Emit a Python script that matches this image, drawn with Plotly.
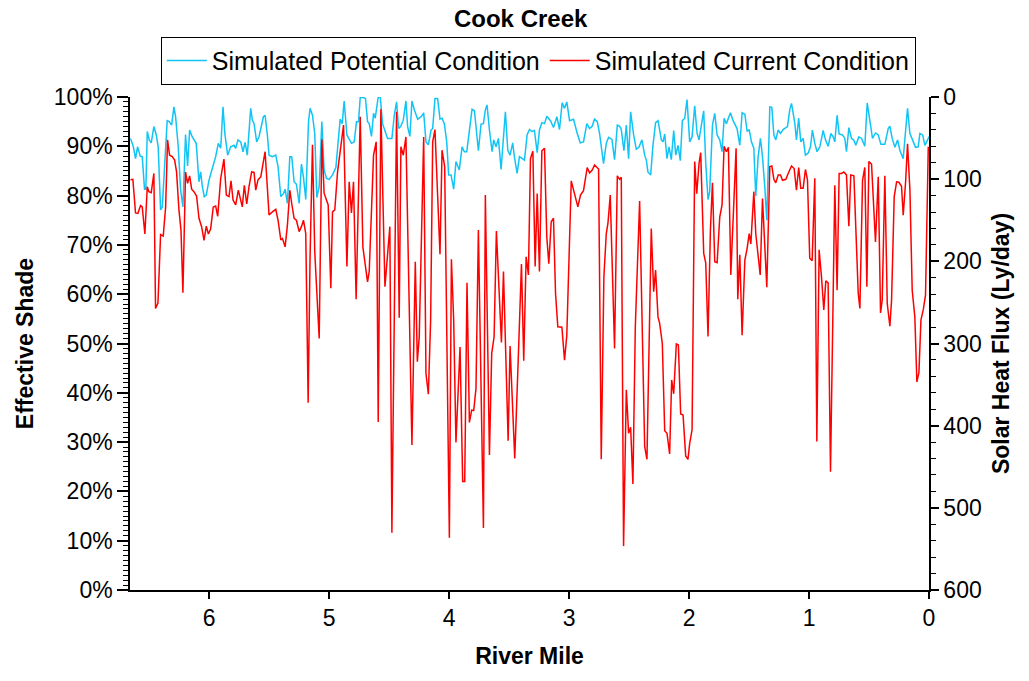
import plotly.graph_objects as go

# ---- data ----
potential_mile = [
    6.656, 6.633, 6.614, 6.597, 6.575, 6.558, 6.539, 6.528, 6.516, 6.500, 6.483, 6.461, 6.441, 6.425,
    6.405, 6.391, 6.375, 6.350, 6.333, 6.313, 6.294, 6.280, 6.258, 6.238, 6.219, 6.197, 6.180, 6.163,
    6.141, 6.108, 6.085, 6.071, 6.057, 6.041, 6.024, 6.002, 5.974, 5.946, 5.924, 5.904, 5.885, 5.868,
    5.846, 5.821, 5.793, 5.779, 5.760, 5.737, 5.718, 5.701, 5.682, 5.654, 5.640,
    5.626, 5.604, 5.584, 5.548, 5.534, 5.515, 5.501, 5.473, 5.445, 5.426, 5.403, 5.381, 5.367, 5.348,
    5.328, 5.312, 5.292, 5.273, 5.250, 5.231, 5.214, 5.195, 5.172, 5.159, 5.139, 5.120, 5.103, 5.083,
    5.061, 5.042, 5.022, 5.000, 4.972, 4.944, 4.908, 4.891, 4.875, 4.852, 4.814, 4.791, 4.772, 4.755,
    4.741, 4.716, 4.697, 4.680, 4.666, 4.647, 4.630, 4.616, 4.591, 4.574, 4.555, 4.513,
    4.499, 4.477, 4.457, 4.438, 4.421, 4.402, 4.382, 4.360, 4.346, 4.327, 4.310, 4.290, 4.262, 4.229,
    4.212, 4.193, 4.173, 4.151, 4.137, 4.118, 4.096, 4.076, 4.059, 4.040, 4.020, 4.004, 3.984, 3.962,
    3.943, 3.915, 3.892, 3.873, 3.853, 3.831, 3.809, 3.789, 3.776, 3.756, 3.734, 3.714, 3.698, 3.684,
    3.664, 3.642, 3.628, 3.609, 3.589, 3.567, 3.531, 3.511, 3.492, 3.470, 3.456, 3.433, 3.414, 3.392,
    3.372, 3.350, 3.330, 3.311, 3.289, 3.266, 3.247, 3.227, 3.205, 3.186, 3.155, 3.130, 3.102, 3.080,
    3.058, 3.038, 3.019, 2.996, 2.963, 2.932, 2.907, 2.880, 2.852, 2.829, 2.807, 2.788, 2.765, 2.746,
    2.727, 2.713, 2.690, 2.671, 2.643, 2.621, 2.598, 2.579, 2.565, 2.543, 2.523, 2.504, 2.487, 2.462,
    2.440, 2.418, 2.393, 2.370, 2.356, 2.343, 2.320, 2.301, 2.279, 2.259,
    2.245, 2.231, 2.217, 2.203, 2.184, 2.167, 2.148, 2.128, 2.111, 2.092, 2.073, 2.056, 2.036, 2.017,
    1.995, 1.975, 1.953, 1.933, 1.917, 1.897, 1.878, 1.861, 1.842, 1.828, 1.805, 1.786, 1.766, 1.744,
    1.725, 1.708, 1.689, 1.655, 1.633, 1.600, 1.577, 1.558, 1.535, 1.516, 1.499, 1.480, 1.460, 1.444,
    1.424, 1.405, 1.388, 1.369, 1.352, 1.327, 1.310, 1.293, 1.277, 1.257, 1.238, 1.216, 1.180, 1.160,
    1.146, 1.118,
    1.105, 1.086, 1.069, 1.049, 1.030, 1.008, 0.988, 0.972, 0.952, 0.933, 0.910, 0.882, 0.863, 0.841,
    0.818, 0.799, 0.785, 0.766, 0.749, 0.721, 0.702, 0.688, 0.668, 0.646, 0.627, 0.610, 0.585, 0.562,
    0.535, 0.515, 0.493, 0.471, 0.446, 0.423, 0.401, 0.368, 0.340, 0.326, 0.307, 0.284, 0.262, 0.243,
    0.215, 0.195, 0.179, 0.159, 0.140, 0.112, 0.090, 0.076, 0.053, 0.034, 0.006, 0.000,
]
potential_shade = [
    91.6, 90.0, 87.5, 89.9, 88.0, 87.9, 81.3, 81.3, 93.0, 91.3, 90.7, 94.0, 92.3, 89.9,
    77.1, 77.7, 84.5, 95.2, 95.0, 94.3, 98.0, 96.0, 89.9, 81.1, 77.7, 92.4, 86.0, 93.3,
    91.9, 90.6, 82.8, 84.8, 81.8, 79.8, 80.1, 83.1, 85.5, 87.9, 90.6, 89.6, 98.0, 92.3,
    88.2, 89.9, 90.2, 89.6, 91.3, 90.9, 88.9, 90.8, 88.2, 97.7, 95.3,
    94.6, 90.9, 92.0, 96.0, 96.3, 92.3, 88.2, 87.9, 88.2, 85.9, 79.8, 80.4, 81.3, 78.4,
    87.9, 87.9, 82.8, 82.3, 78.4, 86.4, 83.7, 79.2, 95.0, 97.7, 96.3, 92.6, 79.6, 81.8,
    95.0, 85.2, 83.5, 83.3, 84.2, 85.7, 95.5, 94.6, 99.2, 92.3, 90.6, 90.9, 95.0, 95.0,
    99.9, 99.9, 99.7, 95.0, 94.6, 92.0, 96.7, 95.7, 100.0, 100.0, 94.6, 91.6,
    91.6, 91.6, 96.3, 99.0, 93.6, 94.1, 95.3, 99.2, 94.0, 92.0, 99.2, 97.4, 95.5, 96.1,
    96.8, 90.9, 90.3, 93.3, 93.6, 99.7, 99.7, 95.5, 95.7, 94.6, 90.9, 84.2, 84.2, 81.3,
    86.9, 85.2, 89.9, 88.9, 88.9, 93.3, 97.5, 97.2, 94.0, 89.1, 94.5, 94.6, 97.4, 98.4,
    93.3, 88.9, 91.3, 89.9, 91.6, 85.3, 97.0, 89.2, 88.2, 90.7, 87.9, 84.5, 87.9, 87.6,
    87.2, 92.3, 93.4, 93.0, 93.2, 88.7, 93.3, 94.8, 94.6, 96.1, 95.2, 93.8, 96.0, 93.4,
    98.8, 97.7, 99.0, 95.2, 95.5, 92.6, 90.7, 90.9, 94.6, 93.6, 94.1, 95.5, 95.0, 92.6,
    88.6, 86.5, 90.6, 91.8, 91.4, 87.3, 94.3, 94.1, 93.4, 89.1, 94.3, 87.5, 97.0, 92.3,
    89.4, 89.8, 91.3, 88.2, 87.2, 84.8, 84.2, 90.2, 94.8, 95.2,
    93.3, 91.3, 90.9, 92.5, 87.5, 89.9, 87.3, 93.2, 88.2, 90.2, 87.1, 95.2, 95.7, 99.5,
    90.9, 91.9, 98.2, 92.6, 91.3, 94.3, 97.2, 86.5, 79.2, 80.8, 94.3, 96.7, 92.3, 91.3,
    88.9, 95.7, 94.6, 96.8, 95.2, 93.6, 90.2, 96.8, 96.5, 93.0, 93.4, 90.9, 89.6, 79.9,
    87.9, 91.6, 87.9, 81.8, 75.0, 98.0, 97.9, 92.3, 91.3, 93.3, 92.6, 93.4, 94.0, 97.5,
    98.7, 94.6,
    91.3, 95.7, 90.9, 91.6, 88.2, 88.6, 89.9, 93.3, 90.6, 88.9, 89.9, 93.2, 91.3, 90.0,
    92.6, 91.9, 90.9, 96.3, 92.5, 92.3, 91.6, 88.9, 93.8, 91.6, 91.3, 90.2, 91.9, 91.6,
    90.0, 98.8, 95.3, 91.6, 92.7, 92.3, 90.4, 90.4, 93.6, 94.1, 91.6, 89.8, 91.3, 89.2,
    87.5, 93.6, 97.7, 92.6, 91.6, 89.8, 89.9, 92.6, 92.3, 90.2, 91.6, 92.0,
]

current_mile = [
    6.656, 6.636, 6.614, 6.594, 6.572, 6.558, 6.536, 6.516, 6.503, 6.483, 6.461, 6.447, 6.427, 6.405,
    6.383, 6.363, 6.347, 6.330, 6.308, 6.288, 6.272, 6.252, 6.235, 6.219, 6.197, 6.180, 6.163, 6.146,
    6.127, 6.105, 6.085, 6.063, 6.043, 6.024, 6.007, 5.988, 5.966, 5.946, 5.929, 5.904, 5.877, 5.857,
    5.835, 5.818, 5.801, 5.779, 5.757, 5.740, 5.724, 5.707, 5.687, 5.668, 5.646, 5.626,
    5.612, 5.593, 5.570, 5.534, 5.501, 5.473, 5.445, 5.426, 5.403, 5.389, 5.367, 5.348, 5.328, 5.312,
    5.292, 5.273, 5.250, 5.231, 5.214, 5.195, 5.175, 5.159, 5.139, 5.120, 5.083, 5.061, 5.042, 5.008,
    4.986, 4.972, 4.953, 4.930, 4.908, 4.880, 4.852, 4.833, 4.814, 4.797, 4.775, 4.758, 4.741, 4.719,
    4.680, 4.666, 4.630, 4.608, 4.591, 4.569, 4.535, 4.494,
    4.477, 4.438, 4.416, 4.402, 4.382, 4.360, 4.310, 4.282, 4.265, 4.249, 4.212, 4.193, 4.173, 4.154,
    4.137, 4.118, 4.076, 4.059, 4.037, 3.998, 3.981, 3.962, 3.943, 3.909, 3.887, 3.870, 3.851, 3.831,
    3.812, 3.795, 3.776, 3.756, 3.714, 3.698, 3.664, 3.645, 3.625, 3.606, 3.564, 3.547, 3.508, 3.492,
    3.453, 3.425, 3.397, 3.378,
    3.358, 3.339, 3.322, 3.302, 3.283, 3.266, 3.247, 3.227, 3.205, 3.186, 3.169, 3.149, 3.130, 3.113,
    3.094, 3.060, 3.038, 3.019, 2.982, 2.955, 2.927, 2.905, 2.880, 2.849, 2.829, 2.807, 2.788, 2.754,
    2.732, 2.710, 2.690, 2.676, 2.657, 2.621, 2.598, 2.579, 2.565, 2.546, 2.523, 2.504, 2.487, 2.468,
    2.448, 2.412, 2.370, 2.351, 2.315, 2.295, 2.279, 2.259,
    2.245, 2.223, 2.203, 2.184, 2.162, 2.145, 2.128, 2.106, 2.089, 2.070, 2.050, 2.028, 2.009, 1.995,
    1.975, 1.953, 1.936, 1.917, 1.903, 1.878, 1.861, 1.842, 1.822, 1.805, 1.786, 1.766, 1.744, 1.725,
    1.708, 1.689, 1.672, 1.652, 1.608, 1.594, 1.577, 1.558, 1.535, 1.516, 1.499, 1.485, 1.460, 1.444,
    1.407, 1.388, 1.352, 1.327, 1.310, 1.293, 1.277, 1.257, 1.238, 1.221, 1.193, 1.174, 1.146, 1.124,
    1.105, 1.086, 1.069, 1.049, 1.030, 1.013, 0.994, 0.974, 0.952, 0.935, 0.916, 0.896, 0.877, 0.860,
    0.841, 0.821, 0.785, 0.766, 0.749, 0.729, 0.710, 0.688, 0.668, 0.652, 0.626, 0.590, 0.576, 0.554,
    0.535, 0.518, 0.501, 0.479, 0.446, 0.423, 0.404, 0.390, 0.368, 0.348, 0.326, 0.312, 0.290, 0.270,
    0.251, 0.229, 0.215, 0.195, 0.179, 0.159, 0.140, 0.118, 0.101, 0.084, 0.067, 0.048, 0.029, 0.006,
]
current_shade = [
    83.2, 83.3, 76.5, 76.4, 78.0, 77.7, 72.2, 81.8, 80.8, 80.6, 84.5, 57.1, 58.2, 72.1,
    71.8, 77.7, 91.3, 88.2, 87.9, 87.2, 84.8, 77.1, 73.0, 60.3, 84.8, 82.5, 84.0, 81.3,
    80.8, 79.9, 75.4, 73.7, 70.9, 73.8, 72.2, 73.2, 77.7, 77.9, 75.8, 83.5, 87.4, 80.1,
    79.8, 83.0, 79.1, 78.1, 81.1, 79.4, 77.7, 82.1, 78.3, 81.8, 84.8, 84.7,
    81.1, 83.2, 83.8, 88.9, 76.1, 76.7, 77.2, 75.0, 71.0, 71.3, 69.6, 74.0, 81.1, 78.4,
    75.4, 75.0, 72.7, 73.7, 75.0, 72.3, 38.0, 67.6, 90.3, 68.6, 51.0, 91.4, 80.5, 78.1,
    61.2, 76.7, 77.1, 84.8, 89.2, 94.3, 65.6, 82.8, 76.5, 82.8, 59.0, 75.7, 96.0, 69.6,
    62.5, 64.6, 88.2, 90.9, 34.1, 97.5, 61.5, 73.7,
    11.6, 97.0, 55.2, 89.9, 88.2, 91.9, 29.4, 66.6, 46.3, 51.4, 91.9, 43.9, 39.7, 54.8,
    90.9, 93.4, 68.1, 89.2, 85.9, 10.6, 67.1, 54.8, 29.9, 49.3, 22.0, 22.0, 62.3, 34.0,
    36.5, 36.4, 40.9, 73.0, 12.6, 80.1, 27.4, 48.0, 51.4, 72.8, 50.2, 64.6, 30.3, 49.5,
    26.7, 46.0, 66.1, 46.5,
    67.6, 63.9, 87.5, 89.0, 65.6, 80.4, 64.6, 89.1, 89.6, 71.6, 66.2, 74.7, 75.4, 60.2,
    53.4, 53.3, 46.6, 51.7, 83.0, 80.4, 77.7, 80.1, 81.0, 85.7, 84.6, 85.2, 86.2, 85.4,
    26.5, 63.5, 72.3, 74.4, 80.1, 49.0, 84.0, 83.3, 83.7, 8.9, 40.6, 31.8, 33.0, 21.5,
    53.4, 78.9, 29.1, 26.5, 73.3, 60.5, 64.9, 55.4,
    54.1, 50.0, 32.3, 31.8, 27.6, 42.6, 39.8, 49.9, 49.7, 35.7, 35.5, 27.2, 26.5, 29.7,
    32.5, 86.9, 80.4, 86.5, 88.7, 68.3, 66.3, 51.4, 73.0, 82.6, 66.6, 66.4, 75.7, 78.1,
    90.0, 88.9, 89.8, 63.9, 89.6, 59.0, 68.0, 51.7, 66.9, 69.3, 72.3, 70.2, 80.8, 72.3,
    63.9, 79.4, 61.4, 85.9, 86.0, 83.3, 82.6, 84.2, 84.2, 83.1, 83.3, 84.5, 86.0, 85.5,
    81.1, 85.7, 81.5, 81.5, 85.3, 83.2, 67.3, 66.8, 83.5, 30.1, 69.0, 63.5, 56.8, 62.7,
    62.3, 24.0, 82.1, 60.8, 84.5, 84.5, 84.8, 84.2, 73.8, 84.2, 84.0, 60.2, 57.1, 83.1,
    85.7, 61.5, 86.9, 86.4, 70.6, 83.8, 56.2, 58.8, 84.0, 58.1, 53.5, 58.8, 79.8, 82.8,
    82.7, 81.9, 76.0, 82.8, 90.5, 81.1, 60.8, 55.4, 42.2, 44.1, 54.8, 56.8, 59.8, 89.9,
]

mile_ticks = [6, 5, 4, 3, 2, 1, 0]
shade_ticks = [0, 10, 20, 30, 40, 50, 60, 70, 80, 90, 100]
shade_labels = ["0%", "10%", "20%", "30%", "40%", "50%", "60%", "70%", "80%", "90%", "100%"]
flux_ticks = [0, 100, 200, 300, 400, 500, 600]

FONT = "Arial, Liberation Sans, sans-serif"
FS = 24

fig = go.Figure()
fig.add_trace(go.Scatter(
    x=potential_mile, y=potential_shade, mode="lines",
    name="Simulated Potential Condition",
    line=dict(color="#11C4F5", width=1.5),
))
fig.add_trace(go.Scatter(
    x=current_mile, y=current_shade, mode="lines",
    name="Simulated Current Condition",
    line=dict(color="#FF0000", width=1.5),
))
# anchor trace for the secondary (flux) axis
fig.add_trace(go.Scatter(
    x=[mile_ticks[-1]], y=[flux_ticks[0]], yaxis="y2", mode="markers",
    marker=dict(opacity=0), showlegend=False, hoverinfo="skip",
))

axis_common = dict(
    showline=True, linecolor="black", linewidth=1.5, showgrid=False, zeroline=False,
    ticks="outside", tickcolor="black", tickwidth=1.5,
    tickfont=dict(family=FONT, size=FS - 1, color="black"),
)

fig.update_layout(
    width=1029, height=681,
    margin=dict(l=130, r=100, t=97, b=91),
    paper_bgcolor="white", plot_bgcolor="white",
    font=dict(family=FONT, color="black"),
    title=dict(text="<b>Cook Creek</b>", x=0.506, xref="container", xanchor="center",
               y=0.973, yref="container", yanchor="middle",
               font=dict(family=FONT, size=FS, color="black")),
    legend=dict(orientation="h", x=0.511, xanchor="center", y=1.122, yanchor="top",
                bordercolor="black", borderwidth=1, bgcolor="white",
                font=dict(family=FONT, size=FS + 1, color="black"),
                itemwidth=40, tracegroupgap=0),
    xaxis=dict(
        range=[6.66, 0], tickmode="array", tickvals=mile_ticks, ticklen=7,
        title=dict(text="<b>River Mile</b>", font=dict(family=FONT, size=FS - 1), standoff=18),
        **axis_common,
    ),
    yaxis=dict(
        range=[0, 100], tickmode="array", tickvals=shade_ticks, ticktext=shade_labels, ticklen=11,
        minor=dict(dtick=1, ticks="outside", ticklen=5, tickcolor="black", tickwidth=1),
        title=dict(text="<b>Effective Shade</b>", font=dict(family=FONT, size=FS - 1), standoff=14),
        **axis_common,
    ),
    yaxis2=dict(
        overlaying="y", side="right", range=[600, 0], tickmode="array", tickvals=flux_ticks, ticklen=8,
        minor=dict(dtick=20, ticks="outside", ticklen=5, tickcolor="black", tickwidth=1),
        title=dict(text="<b>Solar Heat Flux (Ly/day)</b>", font=dict(family=FONT, size=FS - 1), standoff=12),
        **axis_common,
    ),
    showlegend=True,
)

fig.write_html("out.html")
